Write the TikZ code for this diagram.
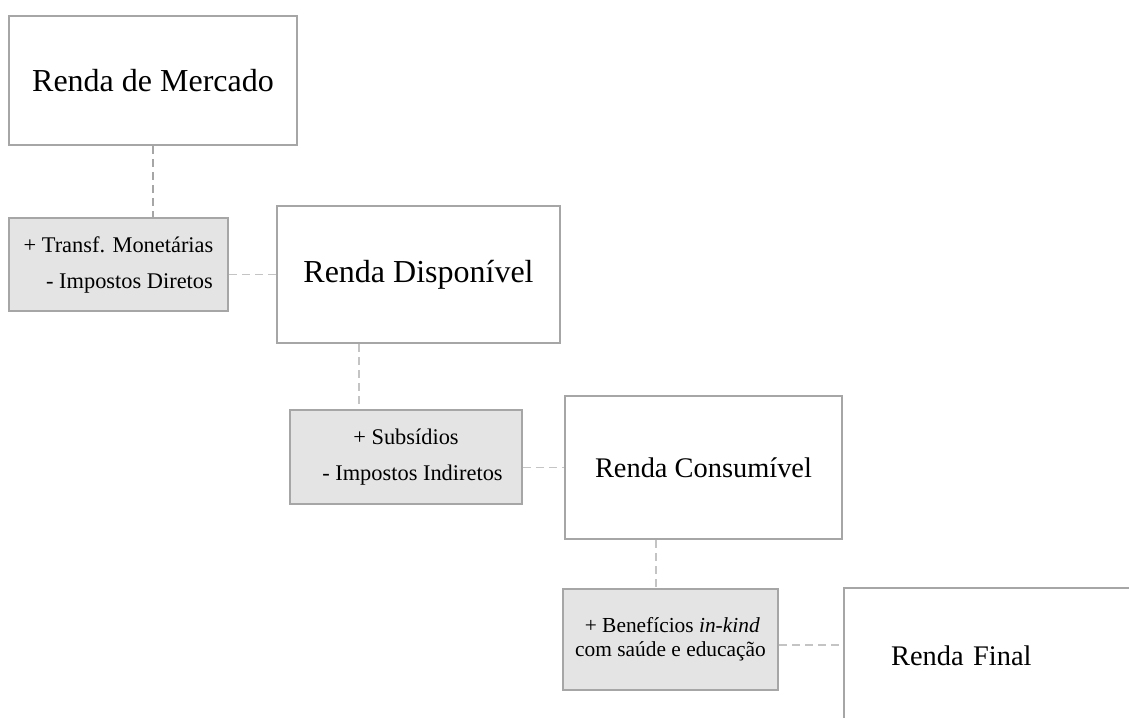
\documentclass[tikz,border=0pt]{standalone}
\usepackage{fontspec}
\setmainfont{Liberation Serif}
\usetikzlibrary{positioning,calc}
\definecolor{boxline}{HTML}{A6A6A6}
\definecolor{boxfill}{HTML}{E4E4E4}
\definecolor{dashline}{HTML}{C4C4C4}

\begin{document}
\begin{tikzpicture}[x=0.5pt, y=-0.5pt,
    renda/.style={draw=boxline, line width=1.1pt, fill=white, align=center, inner sep=0pt},
    ajuste/.style={draw=boxline, line width=1.1pt, fill=boxfill, align=center, inner sep=0pt, font=\fontsize{11.2}{18}\selectfont},
    liga/.style={draw=dashline, line width=0.6pt, dash pattern=on 4pt off 2.5pt}]
    \useasboundingbox (0,0) rectangle (1129,717);
    \clip (0,0) rectangle (1129,717);
    % income stages
    \node[renda, minimum width=144pt, minimum height=64.5pt, font=\fontsize{16}{19}\selectfont] (mercado) at (153,80.5) {Renda de Mercado};
    \node[renda, minimum width=141.5pt, minimum height=68.5pt, font=\fontsize{16}{19}\selectfont] (disp) at (418.5,274.5) {Renda Disponível};
    \node[renda, minimum width=138.5pt, minimum height=71.5pt, font=\fontsize{14.2}{17}\selectfont] (cons) at (703.5,467.5) {Renda Consumível};
    \node[renda, anchor=north west, align=left, text width=106.5pt, inner xsep=23.5pt, minimum height=68pt, font=\fontsize{14.2}{17}\selectfont] (final) at (843,587) {Renda Final};
    % adjustments
    \node[ajuste, minimum width=109.5pt, minimum height=46.5pt] (tm) at (118.5,264.5) {+ Transf. Monetárias\\\hspace*{11pt}- Impostos Diretos};
    \node[ajuste, minimum width=116pt, minimum height=47pt] (sub) at (406,457) {+ Subsídios\\\hspace*{6.5pt}- Impostos Indiretos};
    \node[ajuste, minimum width=107.5pt, minimum height=50.5pt, font=\fontsize{10.7}{12.2}\selectfont] (ben) at (670.5,639.5) {\,+ Benefícios \textit{in-kind}\\com saúde e educação};
    % dashed links
    \coordinate (dispfoot) at ([xshift=41.5pt]disp.south west);
    \coordinate (consfoot) at ([xshift=46pt]cons.south west);
    \coordinate (benout) at ([yshift=-2.75pt]ben.east);
    \draw[liga, draw=boxline] (mercado.south) -- (mercado.south |- tm.north);
    \draw[liga] (tm.east |- disp.west) -- (disp.west);
    \draw[liga] (dispfoot) -- (dispfoot |- sub.north);
    \draw[liga] (sub.east |- cons.west) -- (cons.west);
    \draw[liga] (consfoot) -- (consfoot |- ben.north);
    \draw[liga] (benout) -- (benout -| final.west);
\end{tikzpicture}
\end{document}
